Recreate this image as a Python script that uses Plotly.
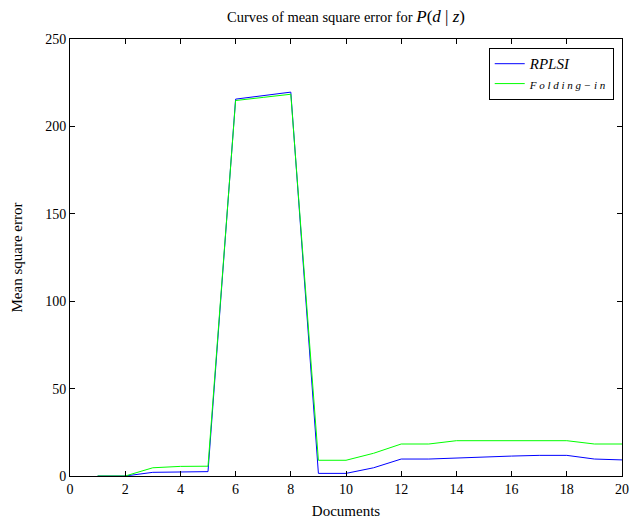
import plotly.graph_objects as go

docs = list(range(1, 21))
rplsi = [0, 0, 2.1, 2.4, 2.5, 215.6, 217.6, 219.6, 1.5, 1.5, 4.7, 9.7, 9.7, 10.4, 10.9, 11.4, 11.8, 11.8, 9.7, 9.2]
folding = [0, 0, 4.7, 5.5, 5.6, 214.8, 216.6, 218.4, 9.0, 9.0, 13.0, 18.3, 18.3, 20.2, 20.2, 20.2, 20.2, 20.2, 18.3, 18.3]
xticks = list(range(0, 21, 2))
yticks = list(range(0, 251, 50))

fig = go.Figure()
fig.add_trace(go.Scatter(x=docs, y=rplsi, mode="lines",
                         name="<span style='font-size:15px'><i>RPLSI</i></span>",
                         line=dict(color="#0000ff", width=1)))
fig.add_trace(go.Scatter(x=docs, y=folding, mode="lines",
                         name="<span style='font-size:11px'><i>F o l d i n g \u2212 i n</i></span>",
                         line=dict(color="#00ff00", width=1)))

axis_common = dict(showgrid=False, zeroline=False, showline=True, linecolor="black",
                   linewidth=1, mirror="ticks", ticks="inside", ticklen=5,
                   tickcolor="black", tickfont=dict(size=14, color="black"))
fig.update_xaxes(range=[0, 20], tickvals=xticks, title=dict(text="Documents", font=dict(size=15), standoff=9),
                 **axis_common)
fig.update_yaxes(range=[0, 250], tickvals=yticks, title=dict(text="Mean square error", font=dict(size=15), standoff=18),
                 **axis_common)

fig.update_layout(
    width=634, height=524,
    font=dict(family="Liberation Serif, Times New Roman, serif", color="black", size=14),
    paper_bgcolor="white", plot_bgcolor="white",
    margin=dict(l=70, r=12, t=39, b=48, autoexpand=False),
    title=dict(text="Curves of mean square error for <span style='font-size:17px'><i>P</i>(<i>d</i> | <i>z</i>)</span>",
               x=0.5, xanchor="center", xref="paper", y=0.978, yanchor="top",
               font=dict(size=14.5)),
    legend=dict(x=0.985, xanchor="right", y=0.98, yanchor="top",
                bordercolor="black", borderwidth=1, bgcolor="white",
                font=dict(size=13), tracegroupgap=2),
    showlegend=True,
)

fig.write_html("out.html", config={"displayModeBar": False},
               post_script="document.body.style.margin='0';document.body.style.overflow='hidden';")
